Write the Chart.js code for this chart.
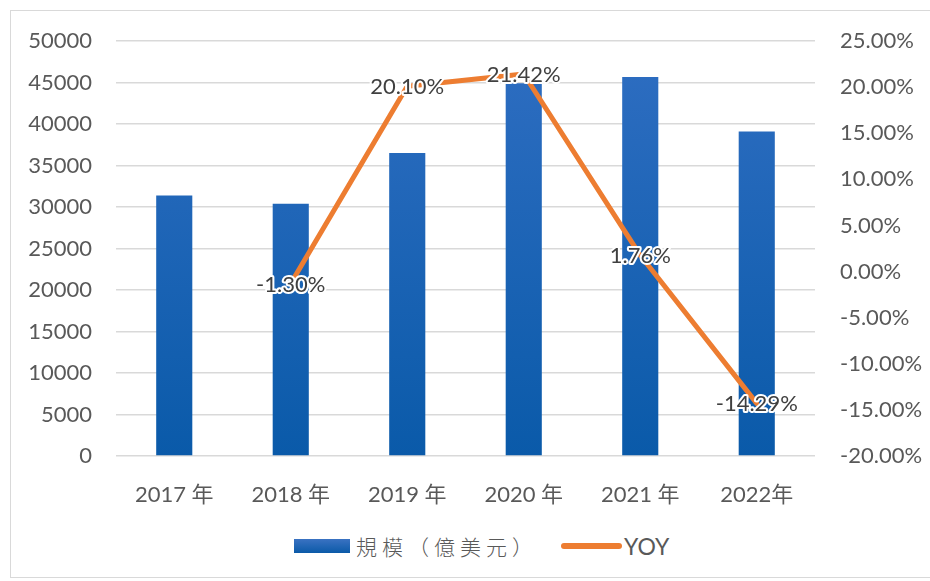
<!DOCTYPE html>
<html>
<head>
<meta charset="utf-8">
<script src="https://cdn.jsdelivr.net/npm/chart.js@4.4.0/dist/chart.umd.min.js"></script>
<style>
  html, body { margin: 0; padding: 0; background: #fff; }
  #wrap { position: relative; width: 930px; height: 581px; overflow: hidden; }
  #frame { position: absolute; left: 10px; top: 10px; width: 930px; height: 568px; border: 1px solid #d9d9d9; box-sizing: border-box; }
  #cv { position: absolute; left: 0; top: 0; }
  #legend { position: absolute; top: 531px; left: 0; width: 930px; height: 30px; font-size: 21px; color: #595959; }
  .lg { position: absolute; top: 0; display: flex; align-items: center; height: 30px; }
  .sw-bar { width: 56px; height: 14px; background: linear-gradient(#3a72c2, #0b5aa8); margin-right: 6px; }
  .sw-line { width: 61px; height: 6px; border-radius: 3px; background: #ed7d31; margin-right: 2px; }
  .t-cjk { font-family: "Noto Sans CJK TC", "Noto Sans CJK SC", sans-serif; letter-spacing: 5px; font-weight: 300; }
  .t-lat { font-family: "Lato", "Noto Sans", sans-serif; font-size: 23px; }
</style>
</head>
<body>
<div id="wrap">
  <div id="frame"></div>
  <canvas id="cv" width="930" height="520"></canvas>
  <div id="legend">
    <div class="lg" style="left:294px"><span class="sw-bar"></span><span class="t-cjk">規模（億美元）</span></div>
    <div class="lg" style="left:561px"><span class="sw-line"></span><span class="t-lat">YOY</span></div>
  </div>
</div>
<script>
// === データ ===
const categories = ['2017 年', '2018 年', '2019 年', '2020 年', '2021 年', '2022年'];
const scaleValues = [31400, 30400, 36500, 44900, 45650, 39100];   // 規模（億美元）
const yoyValues = [null, -1.30, 20.10, 21.42, 1.76, -14.29];      // YOY (%)
const leftTicks = { min: 0, max: 50000, step: 5000 };
const rightTicks = { min: -20, max: 25, step: 5 };

const FONT = '"Lato", "Noto Sans CJK SC", "Noto Sans", sans-serif';
const TEXT_GRAY = '#595959';

// 折れ線のデータラベル（白縁取り）
const yoyLabels = {
  id: 'yoyLabels',
  afterDatasetsDraw(chart) {
    const meta = chart.getDatasetMeta(1);
    const ctx = chart.ctx;
    ctx.save();
    ctx.font = '22px ' + FONT;
    ctx.textAlign = 'center';
    ctx.textBaseline = 'middle';
    ctx.lineJoin = 'round';
    meta.data.forEach((pt, i) => {
      const v = yoyValues[i];
      if (v === null) return;
      const txt = v.toFixed(2) + '%';
      ctx.lineWidth = 4;
      ctx.strokeStyle = '#fff';
      ctx.strokeText(txt, pt.x, pt.y + 1);
      ctx.fillStyle = '#404040';
      ctx.fillText(txt, pt.x, pt.y + 1);
    });
    ctx.restore();
  }
};

function barGradient(context) {
  const area = context.chart.chartArea;
  if (!area) return '#1f62b8';
  const g = context.chart.ctx.createLinearGradient(0, area.top, 0, area.bottom);
  g.addColorStop(0, '#2f6ec2');
  g.addColorStop(1, '#0a5aa9');
  return g;
}

new Chart(document.getElementById('cv').getContext('2d'), {
  type: 'bar',
  data: {
    labels: categories,
    datasets: [
      { type: 'bar', label: '規模（億美元）', data: scaleValues, yAxisID: 'y', backgroundColor: barGradient,
        barPercentage: 0.31, categoryPercentage: 1, order: 1 },
      { type: 'line', label: 'YOY', data: yoyValues, yAxisID: 'y1', borderColor: '#ed7d31', borderWidth: 5,
        pointRadius: 0, tension: 0, borderJoinStyle: 'round', borderCapStyle: 'round', order: 0 }
    ]
  },
  options: {
    responsive: false, animation: false,
    layout: { padding: { top: 41, left: 0, right: 0, bottom: 0 } },
    plugins: { legend: { display: false }, tooltip: { enabled: false } },
    scales: {
      x: {
        grid: { display: false }, border: { display: false },
        ticks: { color: TEXT_GRAY, font: { family: FONT, size: 22 }, padding: 18, maxRotation: 0 },
        afterFit: (axis) => { axis.height = 64; }
      },
      y: {
        position: 'left', min: leftTicks.min, max: leftTicks.max,
        ticks: { stepSize: leftTicks.step, color: TEXT_GRAY, font: { family: FONT, size: 22 }, padding: 24,
          callback: (v) => String(v) },
        grid: { color: '#d9d9d9', lineWidth: 1.5, drawTicks: false }, border: { display: false },
        afterFit: (axis) => { axis.width = 116; }
      },
      y1: {
        position: 'right', min: rightTicks.min, max: rightTicks.max,
        ticks: { stepSize: rightTicks.step, color: TEXT_GRAY, font: { family: FONT, size: 22 }, padding: 25,
          callback: (v) => v.toFixed(2) + '%' },
        grid: { display: false, drawTicks: false }, border: { display: false },
        afterFit: (axis) => { axis.width = 115; }
      }
    }
  },
  plugins: [yoyLabels]
});
</script>
</body>
</html>
